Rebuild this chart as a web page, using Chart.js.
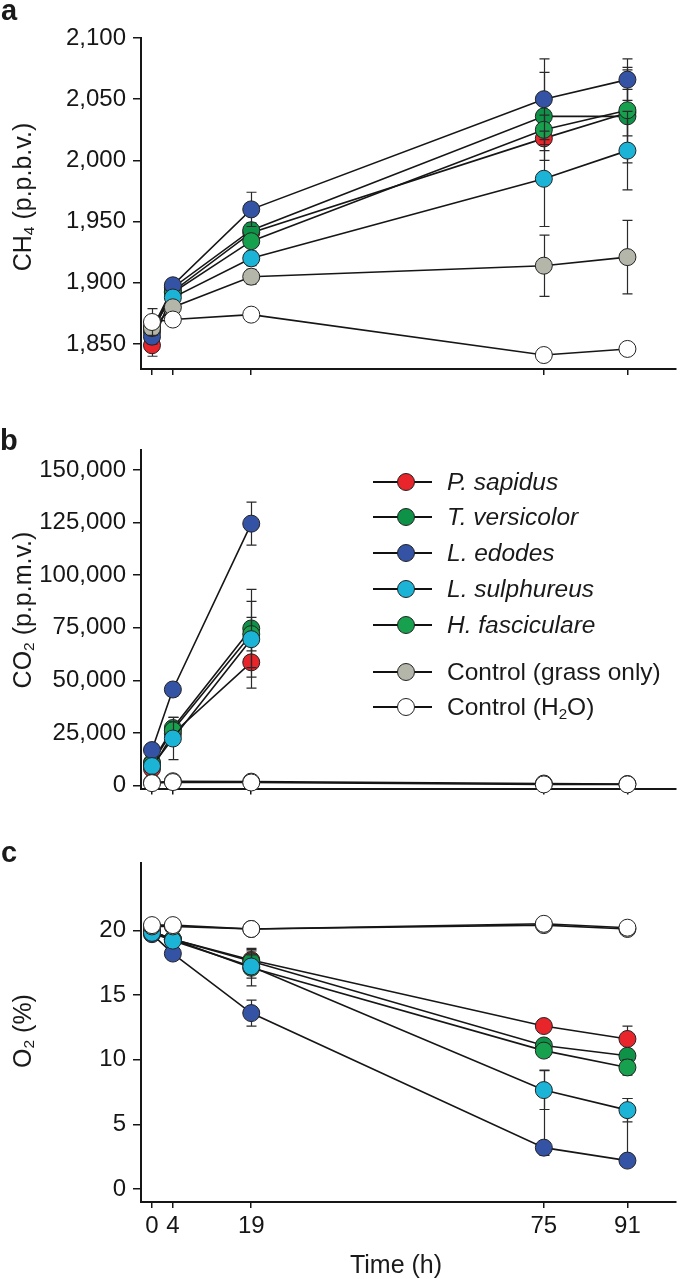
<!DOCTYPE html>
<html>
<head>
<meta charset="utf-8">
<script src="https://cdn.jsdelivr.net/npm/chart.js@4"></script>
<style>
  html, body { margin: 0; padding: 0; background: #fff; }
  body { width: 685px; height: 1279px; position: relative; overflow: hidden;
         font-family: "Liberation Sans", Arial, sans-serif; color: #1a1a1a; }
  canvas { position: absolute; left: 0; }
  .letter { position: absolute; font-weight: bold; font-size: 29px; line-height: 1; }
  .ytitle { position: absolute; font-size: 25px; white-space: nowrap; line-height: 1;
            transform: translate(-50%, -50%) rotate(-90deg); }
  .xtitle { position: absolute; font-size: 25px; white-space: nowrap; line-height: 1;
            transform: translate(-50%, -50%); }
  sub { font-size: 0.62em; vertical-align: -0.25em; line-height: 0; }
  .leg { position: absolute; left: 373px; height: 20px; width: 320px; transform: translateY(-50%); }
  .leg .ln { position: absolute; left: 0; top: 9px; width: 59px; height: 2px; background: #111; }
  .leg .dot { position: absolute; left: 24px; top: 1px; width: 16px; height: 16px; border-radius: 50%;
              border: 1px solid #222; }
  .leg .tx { position: absolute; left: 74px; top: -3px; font-size: 24.5px; line-height: 25px; white-space: nowrap; }
  .leg .it { font-style: italic; }
</style>
</head>
<body>
<canvas id="chA" width="685" height="400" style="top:0px"></canvas>
<canvas id="chB" width="685" height="410" style="top:400px"></canvas>
<canvas id="chC" width="685" height="469" style="top:810px"></canvas>

<div class="letter" style="left:1px; top:-4px">a</div>
<div class="letter" style="left:0px; top:426px">b</div>
<div class="letter" style="left:1px; top:838px">c</div>

<div class="ytitle" style="left:22px; top:197px">CH<sub>4</sub> (p.p.b.v.)</div>
<div class="ytitle" style="left:22px; top:610px">CO<sub>2</sub> (p.p.m.v.)</div>
<div class="ytitle" style="left:22px; top:1031px">O<sub>2</sub> (%)</div>
<div class="xtitle" style="left:396px; top:1264px">Time (h)</div>

<div id="legend"></div>

<script>
const times = [0, 4, 19, 75, 91];
const timeTicks = [0, 4, 19, 75, 91];

const names = ["P. sapidus", "T. versicolor", "L. edodes", "L. sulphureus", "H. fasciculare",
               "Control (grass only)", "Control (H2O)"];
const colors = ["#e8252b", "#0e9247", "#3453a5", "#1bb4d6", "#17a04e", "#b5b6aa", "#ffffff"];
const italicNames = [true, true, true, true, true, false, false];
// lower number = drawn later (on top)
const drawOrder = [6, 5, 3, 2, 4, 1, 0];

// CH4 (p.p.b.v.)
const ch4Values = [
  [1849, 1893, 1941, 2018, 2039],
  [1862, 1896, 1943, 2036, 2036],
  [1856, 1898, 1960, 2050, 2066],
  [1864, 1888, 1920, 1985, 2008],
  [1860, 1892, 1934, 2025, 2041],
  [1863, 1880, 1905, 1914, 1921],
  [1868, 1870, 1874, 1841, 1846],
];
const ch4Errors = [
  [9, 5, 5, 10, 19],
  [6, 5, 6, 36, 38],
  [6, 5, 14, 33, 17],
  [5, 5, 6, 39, 32],
  [6, 4, 5, 12, 35],
  [6, 4, 6, 25, 30],
  [11, 3, 3, 3, 3],
];
const ch4Ticks = [1850, 1900, 1950, 2000, 2050, 2100];

// CO2 (p.p.m.v.)
const co2Values = [
  [8000, 24700, 58600, null, null],
  [11000, 27400, 74700, null, null],
  [16900, 45700, 124500, null, null],
  [9300, 22400, 69600, null, null],
  [10500, 26300, 72000, null, null],
  [1500, 2100, 1900, 1000, 800],
  [1200, 1700, 1500, 600, 600],
];
const co2Errors = [
  [1500, 4000, 12300, null, null],
  [2000, 5000, 18600, null, null],
  [2000, 3000, 10200, null, null],
  [2000, 10000, 18000, null, null],
  [2000, 4000, 8000, null, null],
  [300, 300, 300, 300, 300],
  [300, 300, 300, 300, 300],
];
const co2Ticks = [0, 25000, 50000, 75000, 100000, 125000, 150000];

// O2 (%)
const o2Values = [
  [19.9, 19.3, 17.7, 12.6, 11.6],
  [19.9, 19.3, 17.6, 11.1, 10.3],
  [19.7, 18.2, 13.6, 3.2, 2.2],
  [19.8, 19.2, 17.2, 7.65, 6.1],
  [19.9, 19.3, 17.1, 10.7, 9.4],
  [20.3, 20.3, 20.1, 20.4, 20.1],
  [20.4, 20.4, 20.1, 20.5, 20.2],
];
const o2Errors = [
  [0.2, 0.3, 0.9, 0.4, 1.0],
  [0.2, 0.3, 0.8, 0.4, 0.5],
  [0.2, 0.3, 1.0, [0.6, 6.0], [0.3, 4.8]],
  [0.2, 0.4, 0.9, 1.5, 0.9],
  [0.2, 0.3, 1.4, 0.5, 0.6],
  [0.1, 0.1, 0.1, 0.1, 0.1],
  [0.1, 0.1, 0.1, 0.1, 0.1],
];
const o2Ticks = [0, 5, 10, 15, 20];

const FONT = "'Liberation Sans', Arial, sans-serif";
const INK = "#161616";

// vertical error bars with caps, drawn just before each dataset
const errorBars = {
  id: "errorBars",
  beforeDatasetDraw(chart, args) {
    const ds = chart.data.datasets[args.index];
    if (!ds.errors) return;
    const yScale = chart.scales.y;
    const ctx = chart.ctx;
    ctx.save();
    ctx.strokeStyle = "#2a2a2a";
    ctx.lineWidth = 1.2;
    args.meta.data.forEach((pt, i) => {
      const v = ds.data[i].y;
      const e = ds.errors[i];
      if (v === null || e === null || e === undefined) return;
      const [dn, up] = Array.isArray(e) ? e : [e, e];
      const x = Math.round(pt.x) + 0.5;
      const yLo = yScale.getPixelForValue(v - dn);
      const yHi = yScale.getPixelForValue(v + up);
      ctx.beginPath();
      ctx.moveTo(x, yLo); ctx.lineTo(x, yHi);
      ctx.moveTo(x - 5, yLo); ctx.lineTo(x + 5, yLo);
      ctx.moveTo(x - 5, yHi); ctx.lineTo(x + 5, yHi);
      ctx.stroke();
    });
    ctx.restore();
  },
};

function makePanel(id, values, errors, yMin, yMax, yTicks, padTop, xAxisHeight, showXLabels) {
  const canvas = document.getElementById(id);
  const datasets = values.map((vals, s) => ({
    label: names[s],
    data: times.map((t, i) => ({ x: t, y: vals[i] })),
    errors: errors[s],
    order: drawOrder[s],
    borderColor: INK,
    borderWidth: 1.6,
    pointRadius: 8.5,
    pointBorderWidth: 1,
    pointBorderColor: "#222",
    pointBackgroundColor: colors[s],
    backgroundColor: colors[s],
    tension: 0,
    spanGaps: false,
    clip: false,
  }));

  new Chart(canvas, {
    type: "line",
    data: { datasets },
    plugins: [errorBars],
    options: {
      responsive: false,
      animation: false,
      devicePixelRatio: 1,
      layout: { padding: { top: padTop, right: 3, left: 0, bottom: 0 } },
      plugins: { legend: { display: false }, tooltip: { enabled: false } },
      scales: {
        x: {
          type: "linear",
          min: -2.1,
          max: 100.2,
          afterBuildTicks: (axis) => { axis.ticks = timeTicks.map((v) => ({ value: v })); },
          afterFit: (axis) => { axis.height = xAxisHeight; },
          grid: { drawOnChartArea: false, drawTicks: true, tickLength: 6, color: INK, lineWidth: 1.5 },
          border: { display: true, color: INK, width: 2 },
          ticks: {
            display: showXLabels,
            padding: 4,
            maxRotation: 0,
            autoSkip: false,
            color: INK,
            font: { family: FONT, size: 24 },
          },
        },
        y: {
          type: "linear",
          min: yMin,
          max: yMax,
          afterBuildTicks: (axis) => { axis.ticks = yTicks.map((v) => ({ value: v })); },
          afterFit: (axis) => { axis.width = 141; },
          grid: { drawOnChartArea: false, drawTicks: true, tickLength: 8, color: INK, lineWidth: 1.5 },
          border: { display: true, color: INK, width: 2 },
          ticks: {
            padding: 7,
            color: INK,
            font: { family: FONT, size: 24 },
            callback: (v) => v.toLocaleString("en-US"),
          },
        },
      },
    },
  });
}

makePanel("chA", ch4Values, ch4Errors, 1829.6, 2100, ch4Ticks, 38, 31, false);
makePanel("chB", co2Values, co2Errors, -1400, 159500, co2Ticks, 50, 20, false);
makePanel("chC", o2Values, o2Errors, -1.0, 25.2, o2Ticks, 53, 77, true);

// legend inside panel b
const legendRows = [482, 517, 553, 589, 625, 672, 707];
const legend = document.getElementById("legend");
names.forEach((n, i) => {
  const row = document.createElement("div");
  row.className = "leg";
  row.style.top = legendRows[i] + "px";
  const label = n === "Control (H2O)" ? "Control (H<sub>2</sub>O)" : n;
  row.innerHTML =
    '<div class="ln"></div>' +
    '<div class="dot" style="background:' + colors[i] + '"></div>' +
    '<div class="tx' + (italicNames[i] ? " it" : "") + '">' + label + "</div>";
  legend.appendChild(row);
});
</script>
</body>
</html>
